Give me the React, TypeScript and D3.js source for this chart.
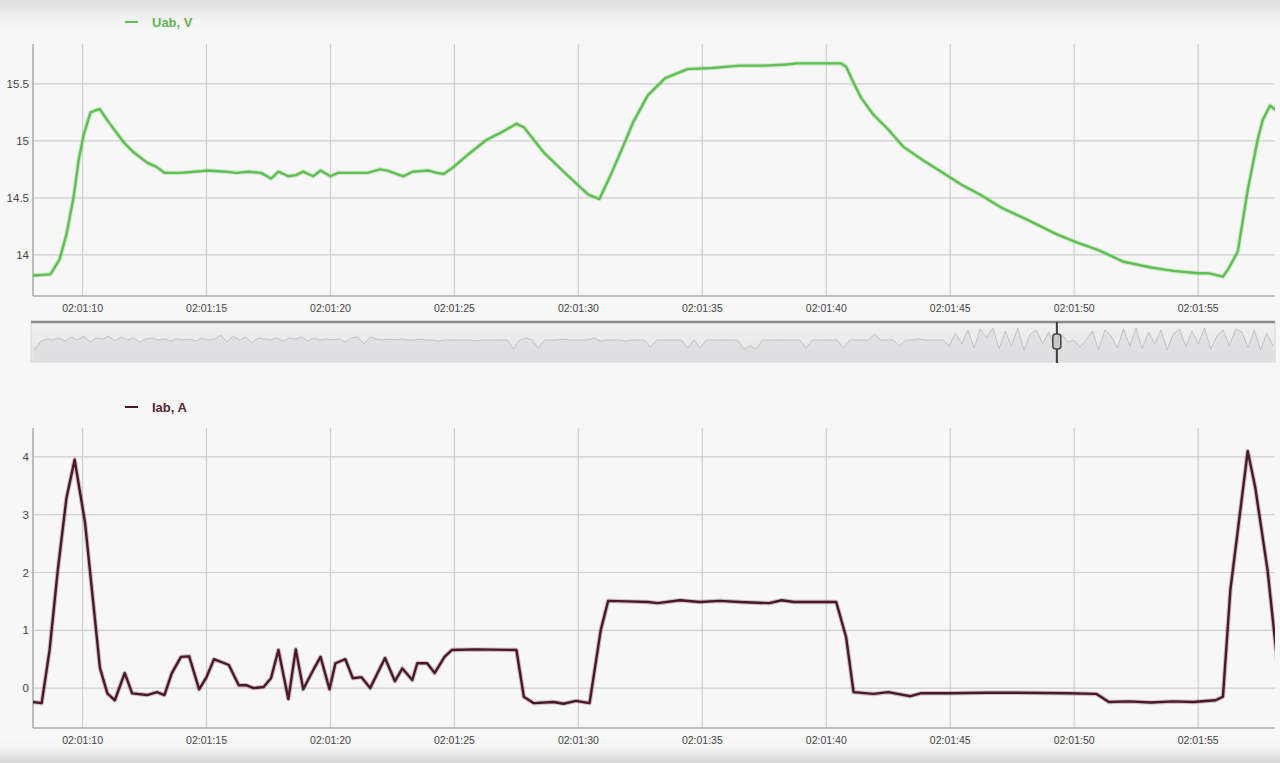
import React from 'react';
import * as d3 from 'd3';

// seconds after 02:01:00
const uabTime = [
  8.0, 8.7, 9.07, 9.35, 9.64, 9.84, 10.04, 10.32, 10.69, 11.0, 11.65, 12.06, 12.6, 13.0, 13.3, 13.95,
  14.5, 15.0, 15.8, 16.2, 16.7, 17.2, 17.6, 17.9, 18.3, 18.6, 18.9, 19.3, 19.6, 20.0, 20.3, 21.0,
  21.5, 22.0, 22.3, 22.8, 22.95, 23.3, 23.95, 24.3, 24.56, 24.96, 25.6, 26.3, 26.85, 27.5, 27.8,
  28.6, 29.55, 30.4, 30.85, 31.3, 31.8, 32.2, 32.8, 33.5, 34.4, 35.4, 36.5, 37.5, 38.4, 38.8, 40.6,
  40.8, 41.1, 41.4, 41.9, 42.5, 43.1, 43.9, 44.7, 45.5, 46.2, 47.1, 48.1, 49.3, 50.1, 51.0, 52.0,
  53.1, 54.0, 55.0, 55.4, 56.0, 56.2, 56.6, 57.0, 57.4, 57.6, 57.9, 58.2,
];
const uabValue = [
  13.82, 13.83, 13.96, 14.18, 14.51, 14.83, 15.05, 15.25, 15.28, 15.18, 14.99, 14.9, 14.81, 14.77, 14.72, 14.72,
  14.73, 14.74, 14.73, 14.72, 14.73, 14.72, 14.67, 14.73, 14.69, 14.7, 14.73, 14.69, 14.74, 14.69, 14.72, 14.72,
  14.72, 14.75, 14.74, 14.7, 14.69, 14.73, 14.74, 14.72, 14.71, 14.77, 14.89, 15.01, 15.07, 15.15, 15.12,
  14.9, 14.7, 14.53, 14.49, 14.7, 14.95, 15.16, 15.4, 15.55, 15.63, 15.64, 15.66, 15.66, 15.67, 15.68, 15.68,
  15.65, 15.51, 15.38, 15.23, 15.1, 14.95, 14.83, 14.72, 14.61, 14.53, 14.41, 14.31, 14.18, 14.11, 14.04, 13.94,
  13.89, 13.86, 13.84, 13.84, 13.81, 13.87, 14.03, 14.57, 15.01, 15.18, 15.31, 15.26,
];

const iabTime = [
  8.0, 8.35, 8.67, 9.0, 9.35, 9.68, 10.1, 10.7, 11.0, 11.3, 11.7, 12.0, 12.6, 13.0, 13.3, 13.6,
  13.97, 14.3, 14.7, 15.0, 15.3, 15.9, 16.3, 16.6, 16.9, 17.3, 17.6, 17.9, 18.3, 18.6, 18.9, 19.3,
  19.6, 19.96, 20.2, 20.6, 20.9, 21.25, 21.6, 22.2, 22.6, 22.9, 23.3, 23.5, 23.9, 24.2, 24.6, 24.9,
  25.8, 27.5, 27.8, 28.2, 29.0, 29.4, 29.9, 30.45, 30.9, 31.2, 32.0, 32.8, 33.2, 34.1, 34.9, 35.7,
  36.5, 37.7, 38.2, 38.7, 39.5, 40.4, 40.8, 41.1, 41.9, 42.5, 43.4, 43.8, 45.0, 46.5, 47.7, 49.7,
  50.9, 51.4, 52.2, 53.1, 54.0, 54.8, 55.7, 56.0, 56.3, 57.0, 57.3, 57.8, 58.2,
];
const iabValue = [
  -0.24, -0.26, 0.66, 2.04, 3.29, 3.95, 2.86, 0.35, -0.09, -0.21, 0.26, -0.09, -0.12, -0.07, -0.12, 0.26,
  0.54, 0.55, -0.02, 0.19, 0.5, 0.4, 0.05, 0.05, 0.0, 0.02, 0.17, 0.66, -0.19, 0.67, -0.02, 0.31,
  0.54, -0.02, 0.43, 0.5, 0.17, 0.19, 0.0, 0.52, 0.12, 0.34, 0.14, 0.43, 0.43, 0.26, 0.54, 0.66,
  0.67, 0.66, -0.15, -0.26, -0.24, -0.27, -0.22, -0.26, 1.0, 1.51, 1.5, 1.49, 1.47, 1.52, 1.49, 1.51,
  1.49, 1.47, 1.52, 1.49, 1.49, 1.49, 0.88, -0.07, -0.1, -0.07, -0.14, -0.09, -0.09, -0.08, -0.08, -0.09,
  -0.1, -0.24, -0.23, -0.25, -0.23, -0.24, -0.21, -0.15, 1.7, 4.1, 3.48, 2.04, 0.43,
];

// overview strip (navigator) trace, evenly spaced samples across the strip
const navValue = [
  -0.5, -0.1, 0.05, 0.0, 0.1, -0.05, 0.15, 0.0, 0.2, -0.1,
  0.1, 0.05, 0.2, -0.05, 0.15, 0.0, 0.1, -0.1, 0.05, 0.1,
  0.0, 0.05, -0.05, 0.05, 0.0, 0.05, -0.05, 0.1, 0.0, 0.05,
  0.25, -0.1, 0.2, 0.0, 0.15, -0.15, 0.1, 0.05, 0.0, 0.1,
  -0.05, 0.1, 0.05, 0.15, -0.05, 0.1, 0.0, 0.05, 0.0, 0.05,
  -0.1, 0.1, 0.15, -0.2, 0.15, 0.05, 0.0, 0.05, 0.0, 0.05,
  0.0, 0.0,
  0.05, 0.0, 0.0, -0.05, 0.0, 0.0, 0.0, 0.0, 0.0, -0.05,
  0.0, 0.0, 0.0, 0.0, 0.0, -0.45, 0.0, 0.1, 0.0, -0.4,
  0.0, 0.0, 0.0, 0.05, 0.0, 0.0, 0.0, 0.0, 0.1, -0.05,
  0.0, 0.0, 0.0, -0.05, 0.0, 0.0, 0.0, -0.35, 0.0, 0.0,
  0.0, 0.0, 0.0, -0.4, 0.0, -0.4, 0.0, 0.0, 0.0, 0.0,
  0.0, 0.0, -0.45, -0.3, -0.45, 0.0, 0.0, 0.0, 0.0, 0.0,
  0.0, 0.0, -0.4, 0.0, 0.0, 0.0, 0.0, 0.0, -0.4, 0.0,
  0.0, 0.0, 0.0, 0.3, 0.0, 0.0, 0.0, -0.3, 0.0, 0.0,
  0.05, 0.0, 0.0, 0.0,
  0.0, -0.3, 0.35, -0.2, 0.5, -0.4, 0.55, 0.1, 0.6, -0.45,
  0.45, -0.3, 0.6, -0.5, 0.3, 0.5, -0.2, 0.4, -0.45, 0.3,
  -0.1, 0.0, -0.35, 0.0, 0.45, -0.5, 0.5, 0.2, -0.4, 0.55,
  -0.3, 0.6, -0.45, 0.4, -0.2, 0.5, -0.5, 0.3, 0.55, -0.35,
  0.45, -0.2, 0.6, -0.45, 0.2, 0.5, -0.3, 0.55, 0.4, -0.4,
  0.5, -0.5, 0.35, -0.3,
];
const navHandleTime = 49.3;

const timeTicks = [10, 15, 20, 25, 30, 35, 40, 45, 50, 55];
const uabTicks = [14, 14.5, 15, 15.5];
const iabTicks = [0, 1, 2, 3, 4];

const W = 1280;
const H = 763;
const left = 33;
const right = 1275;
const font = '"Liberation Sans", Arial, sans-serif';

const fmtTime = (s: number) => `02:01:${String(s).padStart(2, '0')}`;

type PanelProps = {
  id: string;
  top: number;
  bottom: number;
  yDomain: [number, number];
  ticks: number[];
  times: number[];
  values: number[];
  color: string;
  label: string;
  labelColor: string;
  legendY: number;
};

const x = d3.scaleLinear().domain([8.0, 58.1]).range([left, right]);

const Panel: React.FC<PanelProps> = ({ id, top, bottom, yDomain, ticks, times, values, color, label, labelColor, legendY }) => {
  const y = d3.scaleLinear().domain(yDomain).range([bottom, top]);
  const pts = times.map((t, i) => [t, values[i]] as [number, number]);
  const line = d3.line<[number, number]>()
    .x(d => x(d[0]))
    .y(d => y(d[1]));
  const path = line(pts) || '';

  return (
    <g>
      <defs>
        <clipPath id={`clip-${id}`}>
          <rect x={left} y={top - 10} width={right - left} height={bottom - top + 10} />
        </clipPath>
      </defs>
      {/* legend */}
      <line x1={125} x2={138} y1={legendY} y2={legendY} stroke={color} strokeWidth={2} />
      <text x={152} y={legendY + 4.5} fontFamily={font} fontSize={13} fontWeight="bold" fill={labelColor}>{label}</text>

      {/* grid */}
      {timeTicks.map(t => (
        <line key={`v${t}`} x1={x(t)} x2={x(t)} y1={top} y2={bottom} stroke="#cfcfcf" strokeWidth={1.2} />
      ))}
      {ticks.map(v => (
        <line key={`h${v}`} x1={left} x2={right} y1={y(v)} y2={y(v)} stroke="#cfcfcf" strokeWidth={1.2} />
      ))}

      {/* axes */}
      <line x1={left} x2={left} y1={top} y2={bottom} stroke="#a8a8a8" strokeWidth={1.5} />
      <line x1={left} x2={right} y1={bottom} y2={bottom} stroke="#a8a8a8" strokeWidth={1.5} />

      {ticks.map(v => (
        <text key={`yl${v}`} x={29} y={y(v) + 4} textAnchor="end" fontFamily={font} fontSize={11.5} fill="#444">
          {String(v)}
        </text>
      ))}
      {timeTicks.map(t => (
        <text key={`xl${t}`} x={x(t)} y={bottom + 16} textAnchor="middle" fontFamily={font} fontSize={10.5} fill="#444">
          {fmtTime(t)}
        </text>
      ))}

      {/* series */}
      <g clipPath={`url(#clip-${id})`}>
        <path d={path} fill="none" stroke={color} strokeOpacity={0.25} strokeWidth={4.5} strokeLinejoin="round" />
        <path d={path} fill="none" stroke={color} strokeWidth={2.4} strokeLinejoin="round" />
      </g>
    </g>
  );
};

const Navigator: React.FC = () => {
  const top = 322;
  const bottom = 362;
  const nx = d3.scaleLinear().domain([0, navValue.length - 1]).range([left + 1, right - 2]);
  const ny = d3.scaleLinear().domain([-1.1, 0.9]).range([bottom, top]);
  const line = d3.line<number>().x((_, i) => nx(i)).y(d => ny(d));
  const area = d3.area<number>().x((_, i) => nx(i)).y0(bottom).y1(d => ny(d));
  const hx = x(navHandleTime);
  return (
    <g>
      <defs>
        <linearGradient id="navBg" x1="0" y1="0" x2="0" y2="1">
          <stop offset="0" stopColor="#f0f0f0" />
          <stop offset="1" stopColor="#e4e4e4" />
        </linearGradient>
      </defs>
      <rect x={left - 2} y={top} width={right - left + 2} height={bottom - top} fill="url(#navBg)" stroke="#d8d8d8" />
      <path d={area(navValue) || ''} fill="#dadadd" opacity={0.6} />
      <path d={line(navValue) || ''} fill="none" stroke="#bcbcc2" strokeWidth={0.9} />
      <line x1={left - 2} x2={right} y1={top} y2={top} stroke="#8a8a8a" strokeWidth={2.5} />
      <line x1={hx} x2={hx} y1={top} y2={bottom + 1} stroke="#3a3a3a" strokeWidth={2} />
      <rect x={hx - 4} y={334} width={8} height={15} rx={3} fill="#c8c8c8" stroke="#444" strokeWidth={1.5} />
    </g>
  );
};

export default function App() {
  return (
    <div style={{ position: 'absolute', left: 0, top: 0 }}>
      <svg width={W} height={H} style={{ display: 'block' }}>
        <defs>
          <linearGradient id="bgTop" x1="0" y1="0" x2="0" y2="1">
            <stop offset="0" stopColor="#dcdcdc" />
            <stop offset="1" stopColor="#f7f7f7" stopOpacity={0} />
          </linearGradient>
          <linearGradient id="bgBottom" x1="0" y1="0" x2="0" y2="1">
            <stop offset="0" stopColor="#f7f7f7" stopOpacity={0} />
            <stop offset="1" stopColor="#d4d4d4" />
          </linearGradient>
        </defs>
        <rect width={W} height={H} fill="#f7f7f7" />
        <rect width={W} height={36} fill="url(#bgTop)" />
        <rect y={738} width={W} height={25} fill="url(#bgBottom)" />

        <Panel
          id="uab"
          top={44}
          bottom={296}
          yDomain={[13.64, 15.85]}
          ticks={uabTicks}
          times={uabTime}
          values={uabValue}
          color="#5fbf52"
          label="Uab, V"
          labelColor="#62b356"
          legendY={22}
        />
        <Navigator />
        <Panel
          id="iab"
          top={428}
          bottom={728}
          yDomain={[-0.69, 4.5]}
          ticks={iabTicks}
          times={iabTime}
          values={iabValue}
          color="#4a1826"
          label="Iab, A"
          labelColor="#5a2634"
          legendY={407}
        />
      </svg>
    </div>
  );
}
